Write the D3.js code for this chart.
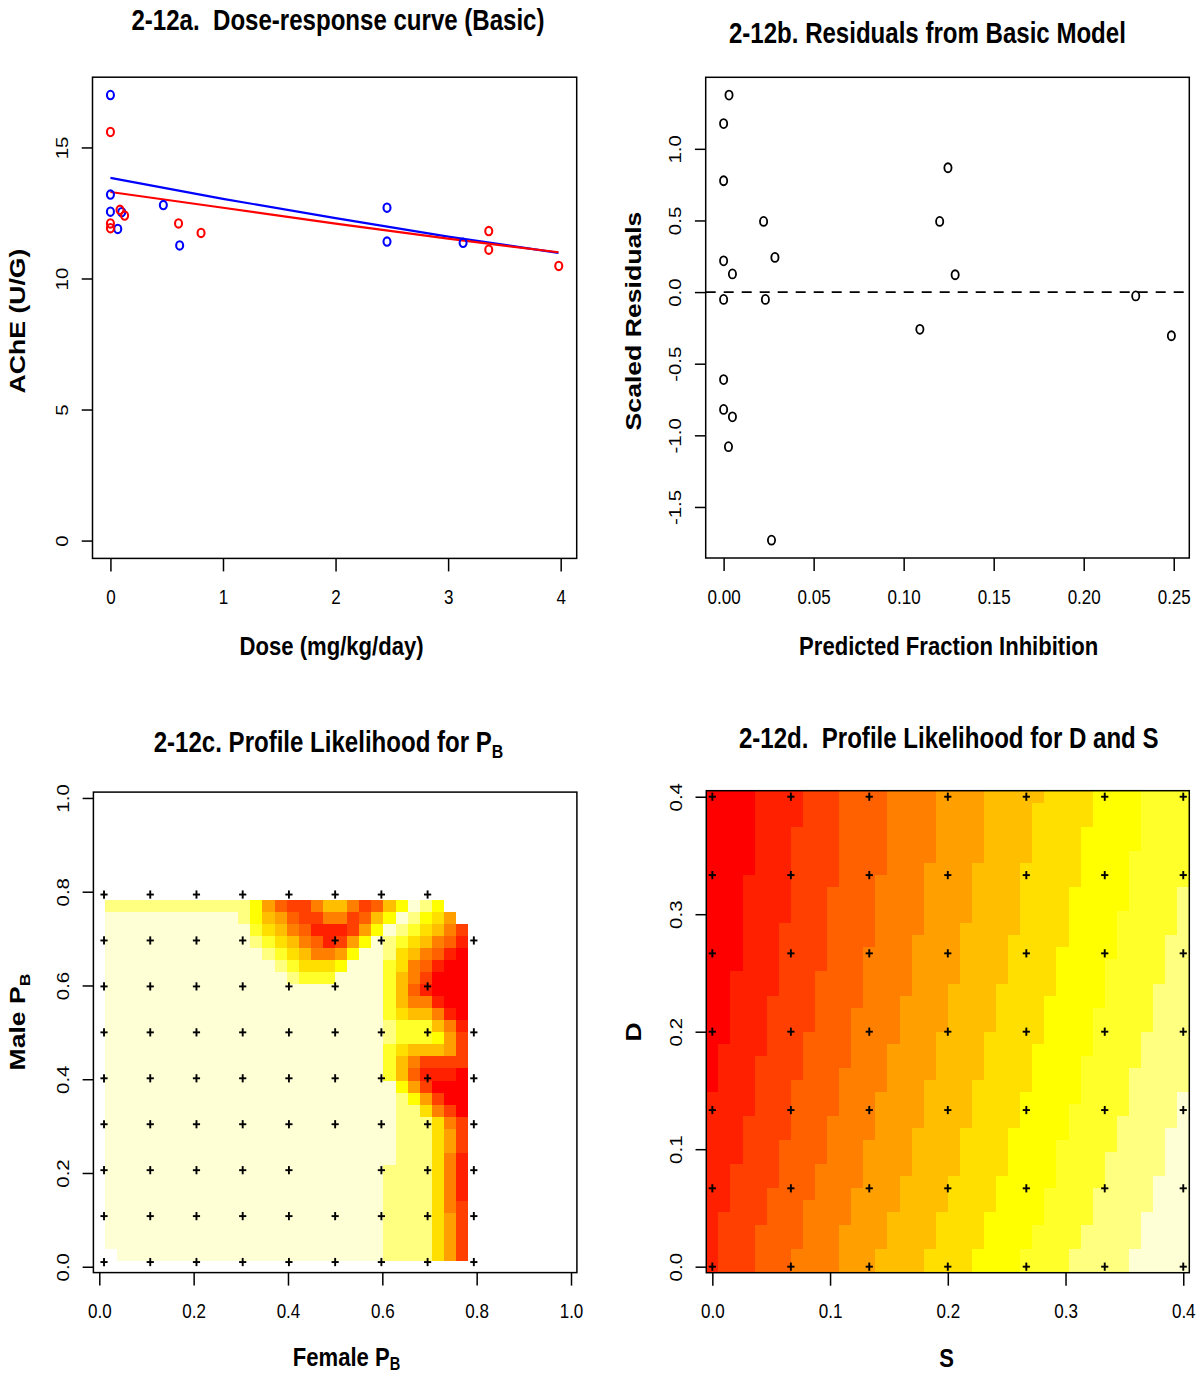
<!DOCTYPE html>
<html><head><meta charset="utf-8">
<script src="https://cdn.jsdelivr.net/npm/d3@7"></script>
<style>body{margin:0;background:#fff} svg{display:block;background:#fff} text{white-space:pre}</style>
</head><body>
<svg id="chart" width="1196" height="1376"></svg>
<script>
// ================= DATA =================
// Panel a: dose-response
const doseBlue = [0, 0, 0, 0.065, 0.10, 0.47, 0.615, 2.457, 2.457, 3.133];
const acheBlue = [17.0, 13.2, 12.55, 11.89, 12.53, 12.80, 11.26, 12.70, 11.41, 11.36];
const doseRed  = [0, 0, 0, 0.085, 0.126, 0.605, 0.805, 3.361, 3.361, 3.983];
const acheRed  = [15.59, 12.10, 11.92, 12.62, 12.40, 12.10, 11.74, 11.81, 11.10, 10.48];
const fitDose  = [0, 1, 2, 3, 3.98];
const fitBlue  = [13.84, 13.04, 12.30, 11.60, 10.98];
const fitRed   = [13.30, 12.70, 12.09, 11.52, 11.00];
const aXTicks = [0, 1, 2, 3, 4];
const aYTicks = [0, 5, 10, 15];
const aYLim = [0, 17];

// Panel b: residuals
const predFrac  = [0.003, 0.000, 0.000, 0.0222, 0.0285, 0.000, 0.0049, 0.000, 0.0232, 0.000,
                   0.000, 0.0049, 0.0027, 0.0266, 0.1246, 0.120, 0.1286, 0.109, 0.2289, 0.2487];
const scaledRes = [1.375, 1.176, 0.777, 0.493, 0.242, 0.218, 0.127, -0.051, -0.051, -0.611,
                   -0.819, -0.871, -1.079, -1.732, 0.868, 0.493, 0.121, -0.260, -0.027, -0.305];
const bXTicks = [0, 0.05, 0.10, 0.15, 0.20, 0.25];
const bYTicks = [-1.5, -1.0, -0.5, 0.0, 0.5, 1.0];

// heat.colors(12)
const heatColors = ["#FF0000","#FF2000","#FF4000","#FF6000","#FF8000","#FF9F00",
                    "#FFBF00","#FFDF00","#FFFF00","#FFFF2A","#FFFF80","#FFFFD5"];

// Panel c: profile likelihood for P_B (30x30 cells, rows from top; 0-9,A,B = level, . = missing)
const cCellRange = [0.0125, 0.782];
const cCells = [
"AAAAAAAAAAAA8532246642368BA8..",
"BBBBBBBBBBBA865322442368BA875.",
"BBBBBBBBBBBB97643111258BA97642",
"BBBBBBBBBBBBA976431258BA976431",
"BBBBBBBBBBBBBA9764458BBA764310",
"BBBBBBBBBBBBBBA97778BBB9743100",
"BBBBBBBBBBBBBBBA999BBBB9642000",
"BBBBBBBBBBBBBBBBBBBBBBB9631000",
"BBBBBBBBBBBBBBBBBBBBBBB9644100",
"BBBBBBBBBBBBBBBBBBBBBBB9766410",
"BBBBBBBBBBBBBBBBBBBBBBBA999641",
"BBBBBBBBBBBBBBBBBBBBBBBA999852",
"BBBBBBBBBBBBBBBBBBBBBBB9766652",
"BBBBBBBBBBBBBBBBBBBBBBB9642222",
"BBBBBBBBBBBBBBBBBBBBBBB9631110",
"BBBBBBBBBBBBBBBBBBBBBBBB852000",
"BBBBBBBBBBBBBBBBBBBBBBBBA85200",
"BBBBBBBBBBBBBBBBBBBBBBBBAA7420",
"BBBBBBBBBBBBBBBBBBBBBBBBAAA742",
"BBBBBBBBBBBBBBBBBBBBBBBBAAA752",
"BBBBBBBBBBBBBBBBBBBBBBBBAAA752",
"BBBBBBBBBBBBBBBBBBBBBBBBAAA741",
"BBBBBBBBBBBBBBBBBBBBBBBAAAA741",
"BBBBBBBBBBBBBBBBBBBBBBBAAAA741",
"BBBBBBBBBBBBBBBBBBBBBBBAAAA741",
"BBBBBBBBBBBBBBBBBBBBBBBAAAA742",
"BBBBBBBBBBBBBBBBBBBBBBBAAAA752",
"BBBBBBBBBBBBBBBBBBBBBBBAAAA752",
"BBBBBBBBBBBBBBBBBBBBBBBAAAA752",
".BBBBBBBBBBBBBBBBBBBBBBAAAA752"
];
const cCross = [0.010, 0.108, 0.206, 0.304, 0.402, 0.500, 0.598, 0.696, 0.794];
const cCrossMask = [ // rows from top
"111111110","111101101","111111010","111111111","111111111",
"111111111","111110111","111111111","111111111"];
const cTicks = [0, 0.2, 0.4, 0.6, 0.8, 1.0];

// Panel d: profile likelihood for D and S (40x40 grid, 0..0.4)
const dGridN = 40, dGridMax = 0.4;
// start column of each colour level 1..11, as runs [column, number of rows] from the top row
const dBounds = [
 [[4,7],[3,8],[2,6],[1,4],[0,15]],
 [[8,3],[7,8],[6,6],[5,5],[4,5],[3,4],[2,4],[1,5]],
 [[11,8],[10,7],[9,5],[8,4],[7,5],[6,4],[5,3],[4,4]],
 [[15,7],[14,6],[13,5],[12,5],[11,4],[10,4],[9,3],[8,4],[7,2]],
 [[19,6],[18,6],[17,5],[16,4],[15,4],[14,4],[13,4],[12,3],[11,4]],
 [[23,6],[22,5],[21,5],[20,4],[19,4],[18,4],[17,4],[16,3],[15,3],[14,2]],
 [[28,1],[27,5],[26,6],[25,4],[24,4],[23,4],[22,4],[21,4],[20,3],[19,3],[18,2]],
 [[32,3],[31,5],[30,5],[29,4],[28,4],[27,4],[26,3],[25,4],[24,3],[23,3],[22,2]],
 [[36,5],[35,5],[34,4],[33,4],[32,4],[31,4],[30,3],[29,4],[28,3],[27,2],[26,2]],
 [[40,8],[39,4],[38,4],[37,4],[36,3],[35,4],[34,3],[33,3],[32,3],[31,2],[30,2]],
 [[40,25],[39,3],[38,4],[37,3],[36,3],[35,2]]
];
const dCross = [0, 0.0667, 0.1333, 0.2, 0.2667, 0.3333, 0.4];
const dTicks = [0, 0.1, 0.2, 0.3, 0.4];

// ================= DRAWING =================
const svg = d3.select('#chart');
const FONT = "'Liberation Sans', Arial, Helvetica, sans-serif";
const CX = 0.83;          // horizontal compression of the picture
const TICK = 13, TICKH = TICK * CX;

function pad4(ext) { const r = ext[1] - ext[0]; return [ext[0] - 0.04 * r, ext[1] + 0.04 * r]; }

function addText(tf, str, size, weight, sub, subDy) {
  const t = svg.append('text').attr('transform', tf).attr('xml:space', 'preserve')
    .attr('font-family', FONT).attr('font-size', size).attr('font-weight', weight)
    .attr('text-anchor', 'middle').attr('fill', '#000');
  t.append('tspan').text(str);
  if (sub) t.append('tspan').attr('font-size', size * 0.66).attr('dy', subDy).text(sub);
  return t;
}
function hText(x, y, str, size, weight, sub, subDy) {
  return addText(`translate(${x},${y}) scale(${CX},1)`, str, size, weight, sub, subDy);
}
function vText(x, y, str, size, weight, sub, subDy) {
  return addText(`translate(${x},${y}) scale(${CX},1) rotate(-90)`, str, size, weight, sub, subDy);
}
function box(x, y) {
  svg.append('rect').attr('x', x.range()[0]).attr('y', y.range()[1])
    .attr('width', x.range()[1] - x.range()[0]).attr('height', y.range()[0] - y.range()[1])
    .attr('fill', 'none').attr('stroke', '#000').attr('stroke-width', 1.5);
}
function bottomAxis(x, y, ticks, fmt) {
  const g = svg.append('g').attr('transform', `translate(0,${y.range()[0]})`)
    .call(d3.axisBottom(x).tickValues(ticks).tickFormat(fmt).tickSize(TICK).tickSizeOuter(0));
  g.select('.domain').remove();
  g.selectAll('.tick line').attr('stroke', '#000').attr('stroke-width', 1.5);
  g.selectAll('.tick text').attr('y', 45.8).attr('dy', null)
    .attr('transform', `scale(${CX},1)`).attr('fill', '#000')
    .attr('font-family', FONT).attr('font-size', 20.5);
}
function leftAxis(x, y, ticks, fmt) {
  const g = svg.append('g').attr('transform', `translate(${x.range()[0]},0)`)
    .call(d3.axisLeft(y).tickValues(ticks).tickFormat(fmt).tickSize(TICKH).tickSizeOuter(0));
  g.select('.domain').remove();
  g.selectAll('.tick line').attr('stroke', '#000').attr('stroke-width', 1.5);
  g.selectAll('.tick text').attr('x', null).attr('dy', null).attr('text-anchor', 'middle')
    .attr('transform', `translate(-24.4,0) scale(${CX},1) rotate(-90)`).attr('fill', '#000')
    .attr('font-family', FONT).attr('font-size', 20.5);
}
function crosses(x, y, xs, ys, mask) {
  const g = svg.append('g').attr('stroke', '#000').attr('stroke-width', 1.9);
  ys.forEach((yv, ri) => xs.forEach((xv, ci) => {
    if (mask && mask[ri][ci] !== '1') return;
    const px = x(xv), py = y(yv);
    g.append('line').attr('x1', px - 3.6).attr('x2', px + 3.6).attr('y1', py).attr('y2', py);
    g.append('line').attr('x1', px).attr('x2', px).attr('y1', py - 4.1).attr('y2', py + 4.1);
  }));
}

// ---------- Panel a ----------
{
  const x = d3.scaleLinear().domain(pad4(d3.extent(doseBlue.concat(doseRed)))).range([92.5, 576.7]);
  const y = d3.scaleLinear().domain(pad4(aYLim)).range([558.4, 77.2]);
  const line = d3.line().x(d => x(d[0])).y(d => y(d[1]));
  svg.append('path').datum(fitDose.map((d, i) => [d, fitBlue[i]])).attr('d', line)
    .attr('fill', 'none').attr('stroke', '#0000FF').attr('stroke-width', 2.2);
  svg.append('path').datum(fitDose.map((d, i) => [d, fitRed[i]])).attr('d', line)
    .attr('fill', 'none').attr('stroke', '#FF0000').attr('stroke-width', 2.2);
  const pts = (xs, ys, col) => svg.append('g').selectAll('ellipse').data(xs.map((d, i) => [d, ys[i]]))
    .join('ellipse').attr('cx', d => x(d[0])).attr('cy', d => y(d[1])).attr('rx', 3.5).attr('ry', 4.2)
    .attr('fill', 'none').attr('stroke', col).attr('stroke-width', 2.1);
  pts(doseBlue, acheBlue, '#0000FF');
  pts(doseRed, acheRed, '#FF0000');
  box(x, y);
  bottomAxis(x, y, aXTicks, d3.format('d'));
  leftAxis(x, y, aYTicks, d3.format('d'));
  hText(338, 30.4, '2-12a.  Dose-response curve (Basic)', 29, 'bold');
  hText(331.6, 654.8, 'Dose (mg/kg/day)', 26.6, 'bold');
  vText(25.4, 321, 'AChE (U/G)', 26.6, 'bold');
}

// ---------- Panel b ----------
{
  const x = d3.scaleLinear().domain(pad4(d3.extent(predFrac))).range([705.7, 1189.3]);
  const y = d3.scaleLinear().domain(pad4(d3.extent(scaledRes))).range([558.0, 77.3]);
  svg.append('line').attr('x1', x.range()[0]).attr('x2', x.range()[1]).attr('y1', y(0)).attr('y2', y(0))
    .attr('stroke', '#000').attr('stroke-width', 1.6).attr('stroke-dasharray', '10,8');
  svg.append('g').selectAll('ellipse').data(predFrac.map((d, i) => [d, scaledRes[i]]))
    .join('ellipse').attr('cx', d => x(d[0])).attr('cy', d => y(d[1])).attr('rx', 3.6).attr('ry', 4.5)
    .attr('fill', 'none').attr('stroke', '#000').attr('stroke-width', 1.8);
  box(x, y);
  bottomAxis(x, y, bXTicks, v => v.toFixed(2));
  leftAxis(x, y, bYTicks, v => v.toFixed(1));
  hText(927.4, 43.4, '2-12b. Residuals from Basic Model', 29, 'bold');
  hText(948.7, 654.8, 'Predicted Fraction Inhibition', 26.6, 'bold');
  vText(640.5, 321, 'Scaled Residuals', 26.6, 'bold');
}

// ---------- Panel c ----------
{
  const x = d3.scaleLinear().domain([-0.0125, 1.0125]).range([93.4, 576.9]);
  const y = d3.scaleLinear().domain([-0.0125, 1.0125]).range([1272.6, 792.1]);
  const n = cCells.length;
  const step = (cCellRange[1] - cCellRange[0]) / n;
  const g = svg.append('g').attr('shape-rendering', 'crispEdges');
  cCells.forEach((row, r) => {
    [...row].forEach((ch, c) => {
      if (ch === '.') return;
      const lvl = parseInt(ch, 16);
      const x0 = x(cCellRange[0] + c * step), x1 = x(cCellRange[0] + (c + 1) * step);
      const yT = y(cCellRange[1] - r * step), yB = y(cCellRange[1] - (r + 1) * step);
      g.append('rect').attr('x', x0).attr('y', yT).attr('width', x1 - x0 + 0.3).attr('height', yB - yT + 0.3)
        .attr('fill', heatColors[lvl]);
    });
  });
  crosses(x, y, cCross, cCross.slice().reverse(), cCrossMask);
  box(x, y);
  bottomAxis(x, y, cTicks, v => v.toFixed(1));
  leftAxis(x, y, cTicks, v => v.toFixed(1));
  hText(328.5, 751.7, '2-12c. Profile Likelihood for P', 29, 'bold', 'B', 6);
  hText(346.5, 1365.5, 'Female P', 26.6, 'bold', 'B', 4.5);
  vText(25.4, 1022, 'Male P', 26.6, 'bold', 'B', 5.5);
}

// ---------- Panel d ----------
{
  const stepD = dGridMax / (dGridN - 1);
  const grid = d3.range(dGridN).map(i => i * stepD);
  const x = d3.scaleLinear().domain([-stepD / 2, dGridMax + stepD / 2]).range([706.3, 1189.3]);
  const y = d3.scaleLinear().domain([-stepD / 2, dGridMax + stepD / 2]).range([1272.7, 790.7]);
  // expand boundary runs to per-row start columns
  const starts = dBounds.map(runs => runs.flatMap(([col, cnt]) => d3.range(cnt).map(() => col)));
  const g = svg.append('g').attr('shape-rendering', 'crispEdges');
  for (let rt = 0; rt < dGridN; rt++) {
    const yv = grid[dGridN - 1 - rt];
    const yT = y(yv + stepD / 2), yB = y(yv - stepD / 2);
    const edges = [0, ...starts.map(s => s[rt]), dGridN];
    for (let lvl = 0; lvl < heatColors.length; lvl++) {
      const c0 = edges[lvl], c1 = edges[lvl + 1];
      if (c1 <= c0) continue;
      const x0 = x(grid[c0] - stepD / 2), x1 = x(grid[c1 - 1] + stepD / 2);
      g.append('rect').attr('x', x0).attr('y', yT).attr('width', x1 - x0 + 0.3).attr('height', yB - yT + 0.3)
        .attr('fill', heatColors[lvl]);
    }
  }
  crosses(x, y, dCross, dCross, null);
  box(x, y);
  bottomAxis(x, y, dTicks, v => v.toFixed(1));
  leftAxis(x, y, dTicks, v => v.toFixed(1));
  hText(948.7, 748.3, '2-12d.  Profile Likelihood for D and S', 29, 'bold');
  hText(946.6, 1367, 'S', 26.6, 'bold');
  vText(640.5, 1032, 'D', 26.6, 'bold');
}
</script>
</body></html>
